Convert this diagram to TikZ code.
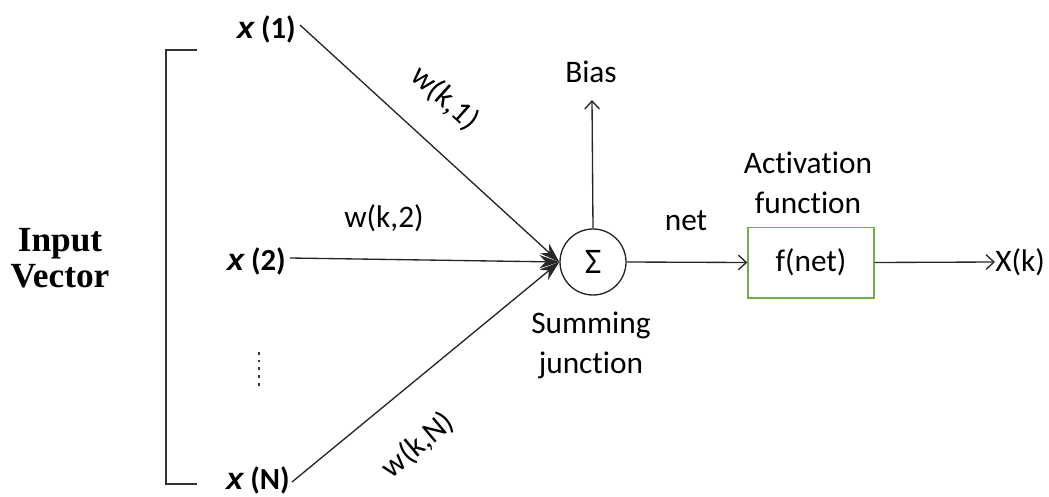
\documentclass[tikz,border=0pt]{standalone}
\usepackage{fontspec}
\setmainfont{Carlito}[Ligatures=NoCommon]
\newfontfamily\arialf{Liberation Sans}
\newfontfamily\timesf{Liberation Serif}
\usetikzlibrary{arrows.meta}
\definecolor{boxgreen}{HTML}{70AD47}
\begin{document}
\begin{tikzpicture}[x=0.75pt,y=-0.75pt,
  inlab/.style={font=\arialf\fontsize{23}{26}\selectfont\bfseries, inner sep=0pt},
  lab/.style={font=\fontsize{23.5}{30}\selectfont, inner sep=0pt},
  wire/.style={draw=black!85, line width=1pt},
  inarrow/.style={wire, -{Stealth[length=15pt,width=10pt]}},
  openarrow/.style={wire, -{Straight Barb[length=6pt,width=11pt,line width=1pt]}}]
\useasboundingbox (0,0) rectangle (1049,496);
% bracket
\draw[line width=1pt, black!80] (197,50) -- (166,50) -- (166,484) -- (197,484);
% input vector label
\node[font=\timesf\fontsize{26.5}{27}\selectfont\bfseries, align=center, inner sep=0pt] (iv) at (60,258) {Input\\Vector};
% inputs
\node[inlab, anchor=east] (x1) at (296,29) {\itshape x\normalfont\bfseries\ (1)};
\node[inlab, anchor=east] (x2) at (286,261) {\itshape x\normalfont\bfseries\ (2)};
\node[inlab, anchor=east] (xN) at (290,480) {\itshape x\normalfont\bfseries\ (N)};
\draw[line width=2.2pt, black!80, dash pattern=on 2pt off 3.8pt] (259,352) -- (259,390);
% summing junction
\node[circle, draw=black!85, line width=1pt, minimum size=49.5pt, inner sep=0pt, font=\fontsize{27}{28}\selectfont] (sum) at (593,262) {Σ};
\coordinate (x1e) at (300,25);
\coordinate (x2e) at (290,258);
\coordinate (xNe) at (292,482);
\draw[inarrow] (x1e) -- (sum.west);
\draw[inarrow] (x2e) -- (sum.west);
\draw[inarrow] (xNe) -- (sum.west);
% weight labels
\node[lab, rotate=-42] (w1) at (445,98) {w(k,1)};
\node[lab] (w2) at (384,218) {w(k,2)};
\node[lab, rotate=40] (wN) at (418,445) {w(k,N)};
% bias
\coordinate (biasend) at (592,100);
\draw[openarrow] (sum.north) -- (biasend);
\node[lab] (bias) at (591,72) {Bias};
% summing label
\node[lab, align=center] (sumlab) at (591,345) {Summing\\junction};
% activation
\node[draw=boxgreen, line width=1pt, minimum width=94.5pt, minimum height=53pt, lab] (f) at (811,262.5) {f(net)};
\node[lab, align=center] (actlab) at (808,183) {Activation\\function};
\draw[openarrow] (sum.east) -- (f.west);
\node[lab] (net) at (686,221) {net};
\node[lab, anchor=west] (out) at (995,262) {X(k)};
\draw[openarrow] (f.east) -- (out.west);
\end{tikzpicture}
\end{document}
